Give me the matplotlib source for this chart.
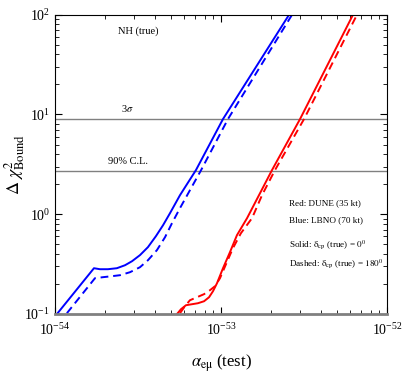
import matplotlib
matplotlib.use("Agg")
import matplotlib.pyplot as plt
from matplotlib.ticker import FixedLocator, NullFormatter

# values, as log10(x) and log10(y)
blue_solid_lx = [-53.988, -53.765, -53.729, -53.681, -53.627, -53.578, -53.536, -53.488, -53.440,
	-53.392, -53.349, -53.307, -53.247, -53.151, -52.988, -52.590]
blue_solid_ly = [-1.0, -0.541, -0.551, -0.551, -0.541, -0.511, -0.471, -0.410, -0.330,
	-0.220, -0.110, 0.011, 0.191, 0.442, 0.954, 2.0]

blue_dash_lx = [-53.928, -53.759, -53.711, -53.657, -53.608, -53.548, -53.488, -53.440, -53.386,
	-53.337, -53.295, -53.247, -53.120, -52.958, -52.572]
blue_dash_ly = [-0.992, -0.641, -0.631, -0.621, -0.611, -0.581, -0.531, -0.461, -0.360,
	-0.230, -0.089, 0.061, 0.442, 0.954, 2.0]

red_solid_lx = [-53.265, -53.241, -53.211, -53.175, -53.139, -53.102, -53.072, -53.048, -53.024,
	-52.988, -52.946, -52.904, -52.843, -52.765, -52.693, -52.524, -52.205]
red_solid_ly = [-1.0, -0.952, -0.912, -0.902, -0.892, -0.872, -0.832, -0.771, -0.691,
	-0.541, -0.380, -0.210, -0.039, 0.211, 0.442, 0.954, 2.0]

red_dash_lx = [-53.247, -53.217, -53.187, -53.145, -53.102, -53.066, -53.036, -53.006, -52.970,
	-52.928, -52.880, -52.813, -52.753, -52.675, -52.500, -52.181]
red_dash_ly = [-0.992, -0.922, -0.862, -0.832, -0.801, -0.761, -0.721, -0.641, -0.501,
	-0.340, -0.190, -0.039, 0.191, 0.442, 0.954, 2.0]

cl_levels = [9.0, 2.71]

x_decades = [-54, -53, -52]
y_decades = [-1, 0, 1, 2]


def pw(v):
	return [10.0 ** a for a in v]


def minors(decs):
	return [m * 10.0 ** d for d in decs[:-1] for m in range(2, 10)]


plt.rcParams['font.family'] = ['Liberation Serif', 'DejaVu Serif']
plt.rcParams['mathtext.fontset'] = 'stix'

fig = plt.figure(figsize=(4.07, 3.82), dpi=100)
ax = fig.add_axes([0.135, 0.178, 0.816, 0.7835])

for lev in cl_levels:
	ax.axhline(lev, color='#808080', lw=1.0)

ax.plot(pw(blue_solid_lx), pw(blue_solid_ly), color='#0000ff', lw=1.4)
ax.plot(pw(blue_dash_lx), pw(blue_dash_ly), color='#0000ff', lw=1.4, dashes=(4, 2.5))
ax.plot(pw(red_solid_lx), pw(red_solid_ly), color='#ff0000', lw=1.4)
ax.plot(pw(red_dash_lx), pw(red_dash_ly), color='#ff0000', lw=1.4, dashes=(4, 2.5))

ax.set_xscale('log')
ax.set_yscale('log')
ax.set_xlim(1e-54, 1e-52)
ax.set_ylim(0.1, 100)

ax.xaxis.set_major_locator(FixedLocator(pw(x_decades)))
ax.yaxis.set_major_locator(FixedLocator(pw(y_decades)))
ax.xaxis.set_minor_locator(FixedLocator(minors(x_decades)))
ax.yaxis.set_minor_locator(FixedLocator(minors(y_decades)))
ax.xaxis.set_minor_formatter(NullFormatter())
ax.yaxis.set_minor_formatter(NullFormatter())
ax.tick_params(which='both', direction='in', top=True, right=True, labelsize=10)
ax.tick_params(which='major', length=5)
ax.tick_params(which='minor', length=3)
ax.tick_params(axis='x', pad=6)
ax.spines['bottom'].set_color('#808080')
ax.spines['bottom'].set_linewidth(2)

ax.set_xlabel(r'$\alpha_{\mathrm{e\mu}}$ (test)', fontsize=12, labelpad=10)
ax.set_ylabel(r'$\Delta\ \chi^2_{\mathrm{Bound}}$', fontsize=13)
ax.yaxis.set_label_coords(-0.085, 0.5)

tr = ax.transAxes
ax.text(0.19, 0.945, 'NH (true)', transform=tr, fontsize=7.5, va='center')
ax.text(0.2, 0.685, r'3$\sigma$', transform=tr, fontsize=7.5, va='center')
ax.text(0.16, 0.51, '90% C.L.', transform=tr, fontsize=7.5, va='center')
ax.text(0.705, 0.37, 'Red: DUNE (35 kt)', transform=tr, fontsize=6.6, va='center')
ax.text(0.705, 0.315, 'Blue: LBNO (70 kt)', transform=tr, fontsize=6.6, va='center')
ax.text(0.705, 0.23, r'Solid: $\mathrm{\delta_{cp}}$ (true) = $0^0$', transform=tr, fontsize=6.6, va='center')
ax.text(0.705, 0.165, r'Dashed: $\mathrm{\delta_{cp}}$ (true) = $180^0$', transform=tr, fontsize=6.6, va='center')

fig.savefig('out.png', dpi=100)
